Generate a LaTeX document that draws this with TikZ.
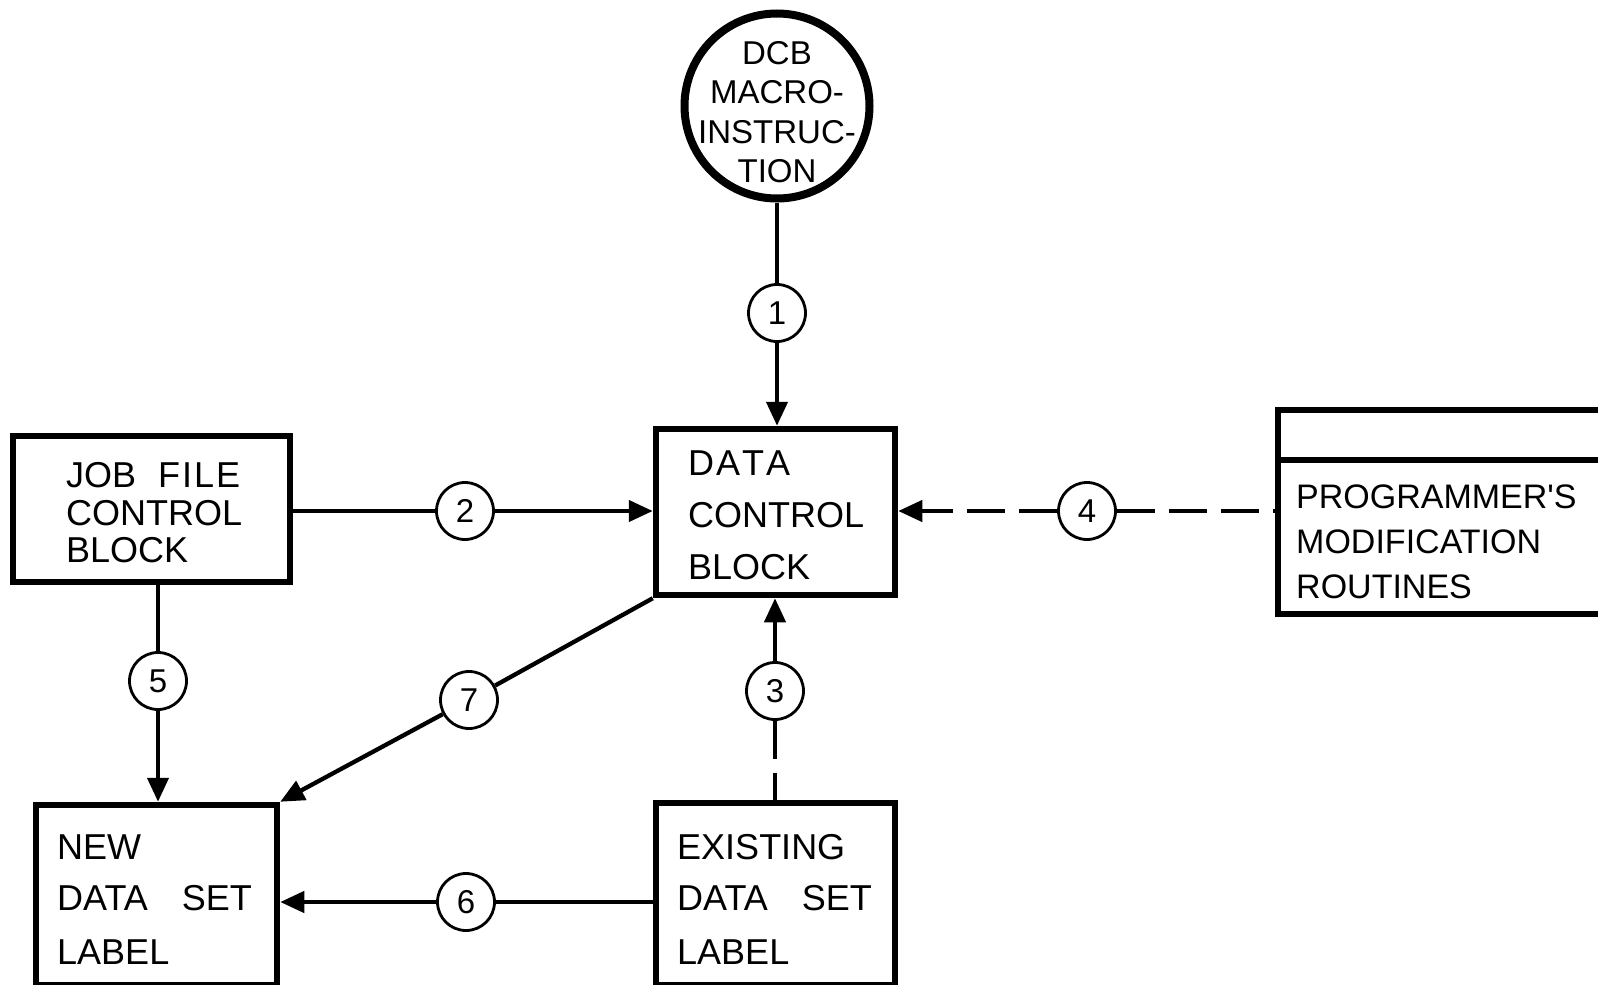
\documentclass[tikz,border=0pt]{standalone}
\usepackage{fontspec}
\setmainfont{Liberation Sans}
\usetikzlibrary{arrows.meta}

\begin{document}
\begin{tikzpicture}[x=1pt,y=-1pt,
  box/.style={draw, line width=6.5pt, rectangle, inner sep=0pt},
  num/.style={draw, circle, line width=2.8pt, minimum size=57pt, inner sep=0pt,
    font=\fontsize{33}{33}\selectfont},
  txt/.style={anchor=base west, inner sep=0pt, font=\fontsize{36}{36}\selectfont},
  ctxt/.style={anchor=base, inner sep=0pt, font=\fontsize{33}{33}\selectfont},
  link/.style={line width=4.3pt},
  tip/.style={-{Triangle[length=24pt,width=21pt]}},
  dashlink/.style={link, dash pattern=on 38pt off 14pt},
]
\useasboundingbox (0,0) rectangle (1598,985);
\clip (0,0) rectangle (1598,985);

% the macro-instruction
\node[draw, circle, line width=8pt, minimum size=185pt, inner sep=0pt] (macro) at (777,106) {};
\node[ctxt] (macro-l1) at (777,64) {DCB};
\node[ctxt] (macro-l2) at (777,103) {MACRO-};
\node[ctxt] (macro-l3) at (777,143) {INSTRUC-};
\node[ctxt] (macro-l4) at (777,182) {TION};

% blocks
\node[box, minimum width=239pt, minimum height=166pt] (dcb) at (775.5,512) {};
\node[box, minimum width=277pt, minimum height=146pt] (jfcb) at (151.5,509) {};
\node[box, minimum width=332pt, minimum height=204pt] (prog) at (1444,512) {};
\node[box, minimum width=241pt, minimum height=180pt] (new) at (156.5,895) {};
\node[box, minimum width=239pt, minimum height=182pt] (exist) at (775.5,894) {};

\coordinate (divider) at (0,460);
\draw[line width=6.5pt] (prog.west |- divider) -- (prog.east |- divider);

% block texts
\node[txt] (dcb-l1) at (688,475) {D\kern2pt A\kern2pt T\kern2pt A};
\node[txt] (dcb-l2) at (688,527) {CONTROL};
\node[txt] (dcb-l3) at (688,579) {BLOCK};

\node[txt] (jfcb-l1) at (66,487) {JOB\hspace{22pt}F\kern2pt I\kern2pt L\kern2pt E};
\node[txt] (jfcb-l2) at (66,525) {CONTROL};
\node[txt] (jfcb-l3) at (66,562) {BLOCK};

\node[txt, font=\fontsize{34}{34}\selectfont] (prog-l1) at (1296,508) {PROGRAMMER\textquotesingle S};
\node[txt, font=\fontsize{34}{34}\selectfont] (prog-l2) at (1296,553) {MODIFICATION};
\node[txt, font=\fontsize{34}{34}\selectfont] (prog-l3) at (1296,598) {ROUTINES};

\node[txt] (new-l1) at (57,859) {NEW};
\node[txt] (new-l2) at (57,910) {DATA\hspace{34pt}SET};
\node[txt] (new-l3) at (57,964) {LABEL};

\node[txt] (exist-l1) at (677,859) {EXISTING};
\node[txt] (exist-l2) at (677,910) {DATA\hspace{34pt}SET};
\node[txt] (exist-l3) at (677,964) {LABEL};

% numbered flow markers
\node[num] (c1) at (777,313) {1};
\node[num] (c2) at (465,511) {2};
\node[num] (c3) at (775,691) {3};
\node[num] (c4) at (1087,511) {4};
\node[num] (c5) at (158,681) {5};
\node[num] (c6) at (466,902) {6};
\node[num] (c7) at (469,700) {7};

% flows
\draw[link] (macro) -- (c1);
\draw[link,tip] (c1) -- (c1 |- dcb.north);

\draw[link] (jfcb.east |- c2) -- (c2);
\draw[link,tip] (c2) -- (dcb.west |- c2);

\draw[link,tip] (c3) -- (c3 |- dcb.south);
\draw[dashlink] (c3) -- (c3 |- exist.north);

\draw[dashlink,tip] (c4) -- (dcb.east |- c4);
\draw[dashlink] (c4) -- (prog.west |- c4);

\draw[link] (jfcb.south -| c5) -- (c5);
\draw[link,tip] (c5) -- (c5 |- new.north);

\draw[link] (exist.west |- c6) -- (c6);
\draw[link,tip] (c6) -- (new.east |- c6);

\draw[link] (dcb.south west) -- (c7);
\draw[link,tip] (c7) -- (new.north east);
\end{tikzpicture}
\end{document}
